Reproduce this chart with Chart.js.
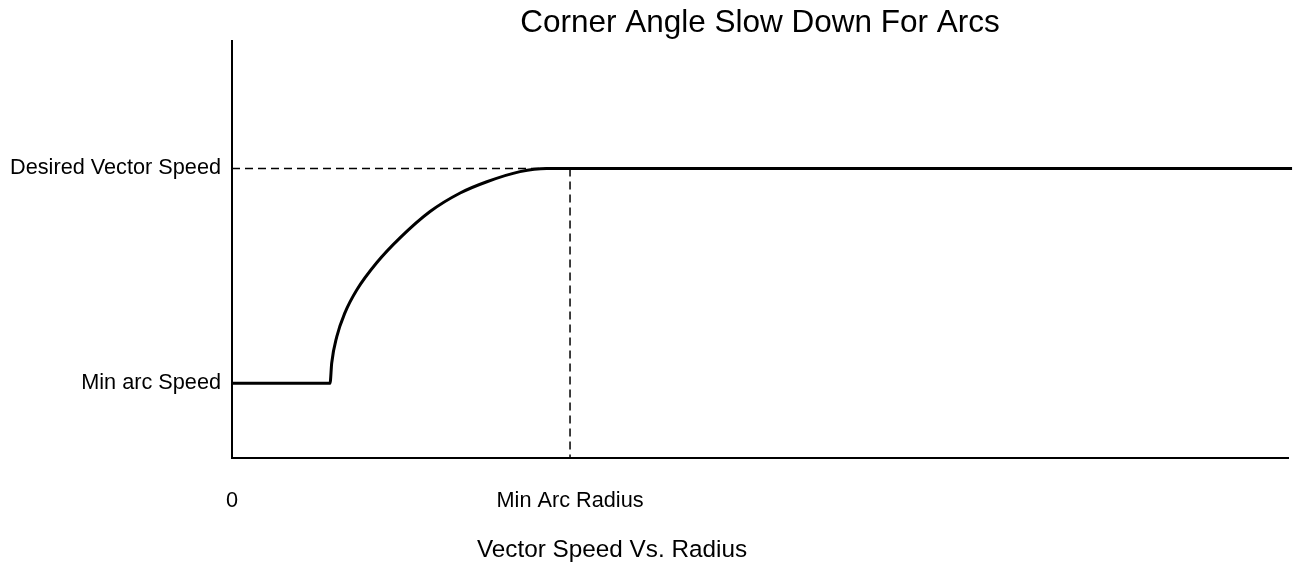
<!DOCTYPE html>
<html>
<head>
<meta charset="utf-8">
<script src="https://cdn.jsdelivr.net/npm/chart.js@4"></script>
<style>
  html, body { margin: 0; padding: 0; background: #fff; }
  #wrap { width: 1293px; height: 567px; }
</style>
</head>
<body>
<div id="wrap"><canvas id="speedChart"></canvas></div>
<script>
// radius in units of the minimum arc radius, speed as a fraction of desired speed
const radius = [0, 0.29, 0.295, 0.31, 0.334, 0.369, 0.428, 0.497, 0.586, 0.675, 0.754, 0.852, 0.931, 3.136];
const speed = [0.258, 0.258, 0.328, 0.419, 0.501, 0.580, 0.674, 0.760, 0.851, 0.915, 0.954, 0.989, 1.0, 1.0];

const guideRadius = [0, 1, 1];
const guideSpeed = [1, 1, 0];

const speedTicks = [0.258, 1];
const speedLabels = ["Min arc Speed", "Desired Vector Speed"];
const radiusTicks = [0, 1];
const radiusLabels = ["0", "Min Arc Radius"];

const FONT = "'Liberation Sans', Arial, Helvetica, sans-serif";

const toPoints = (xs, ys) => xs.map((x, i) => ({ x: x, y: ys[i] }));

const captionPlugin = {
  id: "caption",
  afterDraw(chart) {
    const ctx = chart.ctx;
    ctx.save();
    ctx.font = "24.3px " + FONT;
    ctx.fillStyle = "#000";
    ctx.textAlign = "center";
    ctx.textBaseline = "middle";
    ctx.fillText("Vector Speed Vs. Radius", 612, 550);
    ctx.restore();
  },
};

const data = {
  datasets: [
    {
      label: "Vector speed",
      data: toPoints(radius, speed),
      borderColor: "#000",
      borderWidth: 3,
      pointRadius: 0,
      cubicInterpolationMode: "monotone",
      clip: false,
    },
    {
      label: "Limits",
      data: toPoints(guideRadius, guideSpeed),
      borderColor: "#000",
      borderWidth: 1.5,
      borderDash: [8, 5],
      pointRadius: 0,
      tension: 0,
    },
  ],
};

const configChart = {
  type: "line",
  data: data,
  options: {
    responsive: true,
    maintainAspectRatio: false,
    animation: false,
    layout: { padding: { left: 0, right: 5, top: 0, bottom: 0 } },
    plugins: {
      legend: { display: false },
      tooltip: { enabled: false },
      title: {
        display: true,
        text: "Corner Angle Slow Down For Arcs",
        fullSize: false,
        color: "#000",
        font: { family: FONT, size: 31.5, weight: "normal", lineHeight: 1.111 },
        padding: { top: 6, bottom: 0 },
      },
    },
    scales: {
      x: {
        type: "linear",
        min: 0,
        max: 3.124,
        grid: { display: false, drawTicks: false },
        border: { display: true, color: "#000", width: 2 },
        afterBuildTicks: (scale) => {
          scale.ticks = radiusTicks.map((v) => ({ value: v }));
        },
        afterFit: (scale) => {
          scale.height = 109;
        },
        ticks: {
          autoSkip: false,
          maxRotation: 0,
          padding: 30,
          color: "#000",
          font: { family: FONT, size: 21.7 },
          callback: (value) => radiusLabels[radiusTicks.indexOf(value)],
        },
      },
      y: {
        type: "linear",
        min: 0,
        max: 1.44,
        grid: { display: false, drawTicks: false },
        border: { display: true, color: "#000", width: 2 },
        afterBuildTicks: (scale) => {
          scale.ticks = speedTicks.map((v) => ({ value: v }));
        },
        afterFit: (scale) => {
          scale.width = 232;
        },
        ticks: {
          autoSkip: false,
          padding: 11,
          color: "#000",
          font: { family: FONT, size: 21.7 },
          callback: (value) => speedLabels[speedTicks.indexOf(value)],
        },
      },
    },
  },
  plugins: [captionPlugin],
};

const speedChart = new Chart(document.getElementById("speedChart"), configChart);
</script>
</body>
</html>
